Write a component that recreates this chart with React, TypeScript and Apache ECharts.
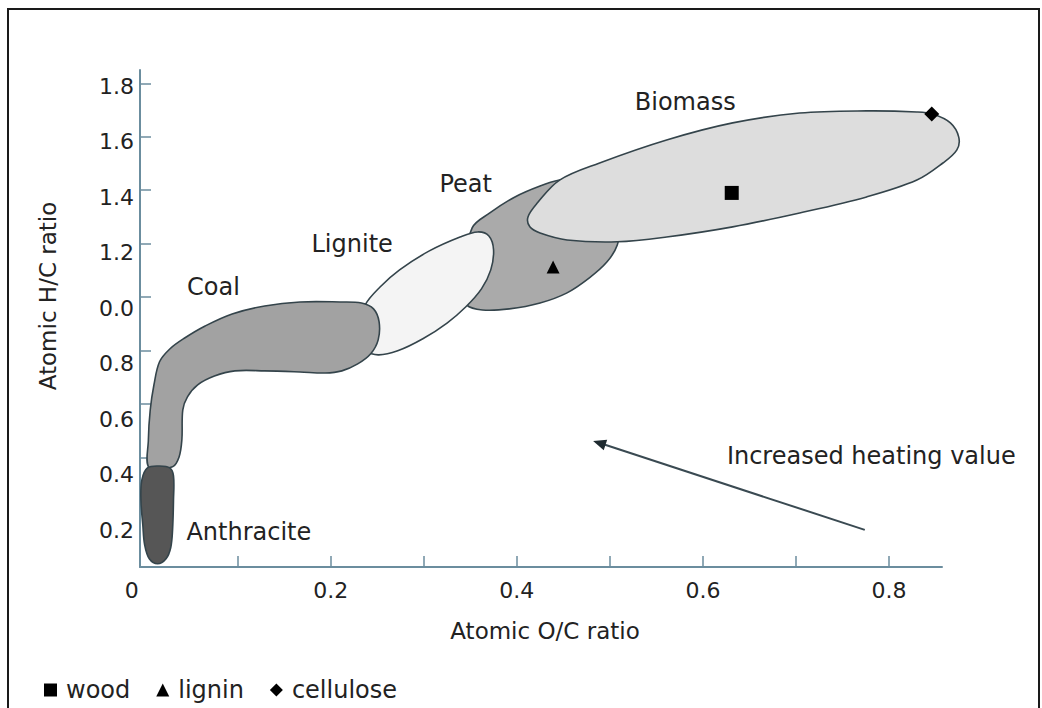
import React, { useEffect, useRef } from "react";
import * as echarts from "echarts";

const FONT = "DejaVu Sans";

// Axis ticks and labels
const xTickValues = [0.1, 0.2, 0.3, 0.4, 0.5, 0.6, 0.7, 0.8];
const xLabelValues = [0, 0.2, 0.4, 0.6, 0.8];
const xLabelTexts = ["0", "0.2", "0.4", "0.6", "0.8"];
const yTickValues = [0.2, 0.4, 0.6, 0.8, 1.0, 1.2, 1.4, 1.6, 1.8];
const yLabelTexts = ["0.2", "0.4", "0.6", "0.8", "0.0", "1.2", "1.4", "1.6", "1.8"];

// Region outlines (atomic O/C, atomic H/C), drawn in this order
const regionNames = ["Peat", "Biomass", "Lignite", "Coal", "Anthracite"];
const peatOutline = [
  [0.341, 1.083], [0.352, 1.259], [0.371, 1.315], [0.398, 1.375], [0.425, 1.416],
  [0.446, 1.438], [0.468, 1.446], [0.487, 1.423], [0.502, 1.364], [0.511, 1.27],
  [0.508, 1.195], [0.497, 1.132], [0.478, 1.072], [0.454, 1.016], [0.425, 0.978],
  [0.392, 0.956], [0.363, 0.952], [0.346, 0.971], [0.341, 1.027],
];
const biomassOutline = [
  [0.412, 1.3], [0.422, 1.352], [0.446, 1.438], [0.489, 1.502], [0.561, 1.588],
  [0.632, 1.652], [0.704, 1.689], [0.776, 1.697], [0.83, 1.693], [0.847, 1.685],
  [0.866, 1.652], [0.875, 1.599], [0.873, 1.551], [0.858, 1.502], [0.83, 1.438],
  [0.776, 1.375], [0.704, 1.315], [0.632, 1.263], [0.561, 1.225], [0.508, 1.207],
  [0.454, 1.214], [0.425, 1.24], [0.414, 1.263],
];
const ligniteOutline = [
  [0.229, 0.877], [0.237, 0.971], [0.253, 1.038], [0.274, 1.102], [0.306, 1.173],
  [0.339, 1.225], [0.358, 1.244], [0.37, 1.229], [0.375, 1.177], [0.372, 1.102],
  [0.362, 1.031], [0.345, 0.963], [0.325, 0.903], [0.299, 0.844], [0.272, 0.799],
  [0.251, 0.784], [0.237, 0.802], [0.229, 0.84],
];
const coalOutline = [
  [0.005, 0.361], [0.004, 0.466], [0.006, 0.578], [0.01, 0.672], [0.016, 0.758],
  [0.027, 0.806], [0.043, 0.847], [0.065, 0.892], [0.094, 0.937], [0.129, 0.967],
  [0.167, 0.982], [0.21, 0.982], [0.233, 0.978], [0.246, 0.956], [0.252, 0.907],
  [0.251, 0.84], [0.243, 0.788], [0.229, 0.75], [0.212, 0.724], [0.194, 0.716],
  [0.167, 0.72], [0.129, 0.724], [0.097, 0.724], [0.075, 0.705], [0.057, 0.672],
  [0.046, 0.627], [0.041, 0.578], [0.04, 0.466], [0.037, 0.402], [0.03, 0.365],
];
const anthraciteOutline = [
  [0.003, 0.361], [0.016, 0.368], [0.027, 0.361], [0.031, 0.331], [0.031, 0.241],
  [0.03, 0.129], [0.028, 0.062], [0.023, 0.021], [0.014, 0.002], [0.005, 0.021],
  [0.0, 0.073], [-0.002, 0.148], [-0.004, 0.241], [-0.003, 0.316],
];
const regionOutlines = [peatOutline, biomassOutline, ligniteOutline, coalOutline, anthraciteOutline];

// Sample compositions
const sampleNames = ["wood", "lignin", "cellulose"];
const samplePoints = [[0.631, 1.39], [0.439, 1.113], [0.846, 1.685]];

// Annotations (text and anchor in data units)
const annotationTexts = ["Biomass", "Peat", "Lignite", "Coal", "Anthracite", "Increased heating value"];
const annotationPoints = [
  [0.581, 1.73], [0.345, 1.423], [0.223, 1.199], [0.074, 1.038], [0.112, 0.122], [0.781, 0.406],
];
const arrowTail = [0.774, 0.129];
const arrowHead = [0.482, 0.462];

// Axis ranges
const xMin = -0.005;
const xMax = 0.857;
const yMin = -0.01;
const yMax = 1.85;
const yLabelAxisMin = 0.0667;
const yLabelAxisMax = 1.8577;

const regionFill = ["#aaaaaa", "#dddddd", "#f4f4f4", "#a2a2a2", "#565656"];
const sampleSymbols = ["rect", "triangle", "diamond"];
const sampleSizes = [14, 13, 15];
const AXIS_COLOR = "#6b8d9e";
const TEXT_COLOR = "#222";
const OUTLINE = "#34444b";

export default function App() {
  const ref = useRef<HTMLDivElement>(null);

  useEffect(() => {
    if (!ref.current) return;
    const chart = echarts.init(ref.current, null, { renderer: "svg" });

    const labelFor = (vals: number[], texts: string[], v: number) => {
      for (let i = 0; i < vals.length; i++) if (Math.abs(vals[i] - v) < 1e-6) return texts[i];
      return "";
    };

    const option: any = {
      animation: false,
      backgroundColor: "#fff",
      textStyle: { fontFamily: FONT },
      grid: { left: 140, right: 100, top: 70, bottom: 141, containLabel: false },
      legend: {
        left: 39,
        top: 673,
        itemWidth: 13,
        itemHeight: 13,
        itemGap: 26,
        data: sampleNames,
        textStyle: { fontFamily: FONT, fontSize: 24, color: TEXT_COLOR, padding: [0, 0, 0, 4] },
      },
      graphic: [
        {
          type: "rect",
          shape: { x: 8, y: 9, width: 1031, height: 720 },
          style: { fill: "none", stroke: "#1a1a1a", lineWidth: 2 },
          silent: true,
        },
      ],
      xAxis: {
        type: "value",
        min: xMin,
        max: xMax,
        name: "Atomic O/C ratio",
        nameLocation: "middle",
        nameGap: 52,
        nameTextStyle: { fontFamily: FONT, fontSize: 23, color: TEXT_COLOR, padding: [0, 0, 0, 8] },
        axisLine: { show: true, onZero: false, lineStyle: { color: AXIS_COLOR, width: 2 } },
        axisTick: { show: true, inside: true, length: 11, customValues: xTickValues, lineStyle: { color: AXIS_COLOR, width: 1.5 } },
        axisLabel: {
          show: true,
          margin: 12,
          customValues: xLabelValues,
          fontFamily: FONT,
          fontSize: 22,
          color: TEXT_COLOR,
          formatter: (v: number) => {
            const t = labelFor(xLabelValues, xLabelTexts, v);
            return Math.abs(v) < 1e-9 ? "{z|" + t + "}" : t;
          },
          rich: { z: { fontFamily: FONT, fontSize: 22, color: TEXT_COLOR, padding: [0, 26, 0, 0] } },
        },
        splitLine: { show: false },
      },
      yAxis: [
        {
          type: "value",
          min: yMin,
          max: yMax,
          name: "Atomic H/C ratio",
          nameLocation: "middle",
          nameGap: 81,
          nameTextStyle: { fontFamily: FONT, fontSize: 23, color: TEXT_COLOR, padding: [0, 0, 0, 45] },
          axisLine: { show: true, onZero: false, lineStyle: { color: AXIS_COLOR, width: 2 } },
          axisTick: { show: true, inside: true, length: 11, customValues: yTickValues, lineStyle: { color: AXIS_COLOR, width: 1.5 } },
          axisLabel: { show: false },
          splitLine: { show: false },
        },
        {
          type: "value",
          position: "left",
          min: yLabelAxisMin,
          max: yLabelAxisMax,
          axisLine: { show: false },
          axisTick: { show: false },
          splitLine: { show: false },
          axisLabel: {
            show: true,
            margin: 6,
            customValues: yTickValues,
            fontFamily: FONT,
            fontSize: 22,
            color: TEXT_COLOR,
            formatter: (v: number) => labelFor(yTickValues, yLabelTexts, v),
          },
        },
      ],
      series: [
        {
          type: "custom",
          name: "regions",
          clip: false,
          z: 2,
          silent: true,
          data: regionOutlines.map((o, i) => [o[0][0], o[0][1], i]),
          renderItem: (params: any, api: any) => {
            const idx = params.dataIndex;
            const pts = regionOutlines[idx].map((p) => api.coord(p));
            return {
              type: "polygon",
              shape: { points: pts, smooth: 0.35 },
              style: { fill: regionFill[idx], stroke: OUTLINE, lineWidth: 1.6 },
            };
          },
        },
        {
          type: "custom",
          name: "arrow",
          clip: false,
          z: 3,
          silent: true,
          data: [[arrowTail[0], arrowTail[1], arrowHead[0], arrowHead[1]]],
          renderItem: (params: any, api: any) => {
            const a = api.coord([api.value(0), api.value(1)]);
            const b = api.coord([api.value(2), api.value(3)]);
            const dx = b[0] - a[0];
            const dy = b[1] - a[1];
            const len = Math.sqrt(dx * dx + dy * dy);
            const ux = dx / len;
            const uy = dy / len;
            const headLen = 13;
            const headHalf = 5.5;
            const bx = b[0] - ux * headLen;
            const by = b[1] - uy * headLen;
            return {
              type: "group",
              children: [
                {
                  type: "line",
                  shape: { x1: a[0], y1: a[1], x2: bx + ux * 2, y2: by + uy * 2 },
                  style: { stroke: "#3a4a52", lineWidth: 2 },
                },
                {
                  type: "polygon",
                  shape: {
                    points: [
                      [b[0], b[1]],
                      [bx - uy * headHalf, by + ux * headHalf],
                      [bx + uy * headHalf, by - ux * headHalf],
                    ],
                  },
                  style: { fill: "#1e2a30" },
                },
              ],
            };
          },
        },
        {
          type: "custom",
          name: "annotations",
          clip: false,
          z: 4,
          silent: true,
          data: annotationPoints,
          renderItem: (params: any, api: any) => {
            const p = api.coord([api.value(0), api.value(1)]);
            return {
              type: "text",
              x: p[0],
              y: p[1],
              style: {
                text: annotationTexts[params.dataIndex],
                fill: TEXT_COLOR,
                fontFamily: FONT,
                fontSize: 24,
                align: "center",
                verticalAlign: "middle",
              },
            };
          },
        },
        ...sampleNames.map((name, i) => ({
          type: "scatter",
          name,
          z: 5,
          symbol: sampleSymbols[i],
          symbolSize: sampleSizes[i],
          itemStyle: { color: "#000", opacity: 1 },
          data: [samplePoints[i]],
        })),
      ],
    };

    chart.setOption(option);
    return () => {
      chart.dispose();
    };
  }, []);

  return (
    <div
      ref={ref}
      style={{ position: "fixed", left: 0, top: 0, width: 1042, height: 708, background: "#fff" }}
    />
  );
}
